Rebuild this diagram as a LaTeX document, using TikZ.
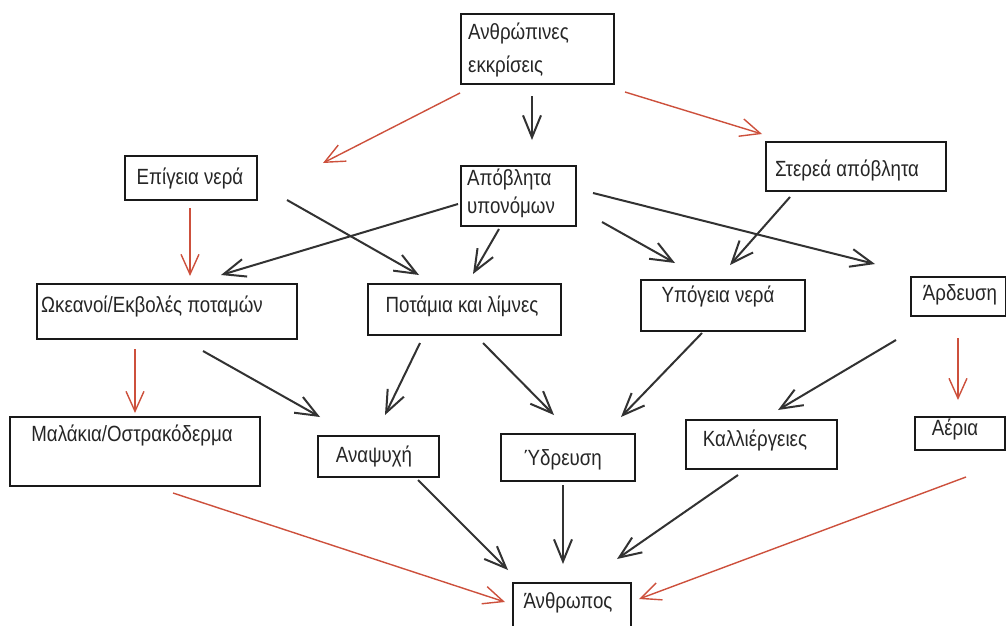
\documentclass[tikz,border=0pt]{standalone}
\usepackage{fontspec}
\setmainfont{Liberation Sans}[FakeStretch=0.85]
\usetikzlibrary{arrows.meta}
\definecolor{inkc}{RGB}{50,50,50}
\definecolor{redc}{RGB}{205,80,60}
\tikzset{
  box/.style={draw=black!90, line width=2pt, inner sep=0pt, anchor=north west},
  lbl/.style={font=\fontsize{22}{28}\selectfont, inner sep=0pt, text=black!85},
  blk/.style={draw=inkc, line width=2pt, -{Straight Barb[length=22pt,width=18pt,line width=2pt]}},
  rda/.style={draw=redc, line width=1.4pt, -{Straight Barb[length=20pt,width=18pt,line width=1.4pt]}},
}
\begin{document}
\begin{tikzpicture}[x=1pt,y=-1pt]
\useasboundingbox[fill=white] (0,0) rectangle (1006,626);
% boxes
\node[box, minimum width=153, minimum height=70] (ank) at (460,13) {};
\node[box, minimum width=132, minimum height=44] (epi) at (124,155) {};
\node[box, minimum width=115, minimum height=60] (apo) at (460,165) {};
\node[box, minimum width=180, minimum height=49] (ste) at (765,141) {};
\node[box, minimum width=260, minimum height=55] (oke) at (36,283) {};
\node[box, minimum width=193, minimum height=51] (pot) at (367,283) {};
\node[box, minimum width=164, minimum height=51] (ypo) at (640,279) {};
\node[box, minimum width=95, minimum height=39] (ard) at (910,276) {};
\node[box, minimum width=250, minimum height=69] (mal) at (9,416) {};
\node[box, minimum width=121, minimum height=41] (ana) at (317,435) {};
\node[box, minimum width=134, minimum height=47] (ydr) at (500,433) {};
\node[box, minimum width=151, minimum height=49] (kal) at (685,419) {};
\node[box, minimum width=90, minimum height=33] (aer) at (914,416) {};
\node[box, minimum width=118, minimum height=54] (anth) at (512,582) {};
% texts
\node[lbl, anchor=base west] (ankt1) at (468,40) {Ανθρώπινες};
\node[lbl, anchor=base west] (ankt2) at (468,72) {εκκρίσεις};
\node[lbl, anchor=base] (epit) at (190,184) {Επίγεια νερά};
\node[lbl, anchor=base west] (apot1) at (467,185) {Απόβλητα};
\node[lbl, anchor=base west] (apot2) at (467,213) {υπονόμων};
\node[lbl, anchor=base] (stet) at (847,176) {Στερεά απόβλητα};
\node[lbl, anchor=base west] (oket) at (41,312) {Ωκεανοί/Εκβολές ποταμών};
\node[lbl, anchor=base] (pott) at (462,312) {Ποτάμια και λίμνες};
\node[lbl, anchor=base] (ypot) at (718,302) {Υπόγεια νερά};
\node[lbl, anchor=base] (ardt) at (960,300) {Άρδευση};
\node[lbl, anchor=base] (malt) at (132,441) {Μαλάκια/Οστρακόδερμα};
\node[lbl, anchor=base] (anat) at (374,462) {Αναψυχή};
\node[lbl, anchor=base] (ydrt) at (563,465) {Ύδρευση};
\node[lbl, anchor=base] (kalt) at (755,446) {Καλλιέργειες};
\node[lbl, anchor=base] (aert) at (955,435) {Αέρια};
\node[lbl, anchor=base] (antht) at (568,608) {Άνθρωπος};
% connector end points
\coordinate (c1s) at (460,93);  \coordinate (c1e) at (323,163);
\coordinate (c2s) at (532,96);  \coordinate (c2e) at (532,140);
\coordinate (c3s) at (625,92);  \coordinate (c3e) at (762,134);
\coordinate (c4s) at (190,208); \coordinate (c4e) at (190,276);
\coordinate (c5s) at (287,200); \coordinate (c5e) at (419,275);
\coordinate (c6s) at (458,204); \coordinate (c6e) at (221,275);
\coordinate (c7s) at (499,229); \coordinate (c7e) at (473,274);
\coordinate (c8s) at (602,222); \coordinate (c8e) at (675,263);
\coordinate (c9s) at (593,193); \coordinate (c9e) at (875,264);
\coordinate (c10s) at (790,197); \coordinate (c10e) at (730,265);
\coordinate (c11s) at (135,349); \coordinate (c11e) at (135,413);
\coordinate (c12s) at (203,351); \coordinate (c12e) at (320,417);
\coordinate (c13s) at (420,343); \coordinate (c13e) at (385,415);
\coordinate (c14s) at (483,343); \coordinate (c14e) at (554,415);
\coordinate (c15s) at (702,333); \coordinate (c15e) at (621,417);
\coordinate (c16s) at (896,340); \coordinate (c16e) at (778,410);
\coordinate (c17s) at (958,338); \coordinate (c17e) at (958,400);
\coordinate (c18s) at (173,493); \coordinate (c18e) at (505,602);
\coordinate (c19s) at (418,480); \coordinate (c19e) at (508,570);
\coordinate (c20s) at (563,485); \coordinate (c20e) at (563,564);
\coordinate (c21s) at (738,475); \coordinate (c21e) at (617,559);
\coordinate (c22s) at (966,477); \coordinate (c22e) at (639,599);
% connectors
\draw[rda] (c1s) -- (c1e);
\draw[blk] (c2s) -- (c2e);
\draw[rda] (c3s) -- (c3e);
\draw[rda] (c4s) -- (c4e);
\draw[blk] (c5s) -- (c5e);
\draw[blk] (c6s) -- (c6e);
\draw[blk] (c7s) -- (c7e);
\draw[blk] (c8s) -- (c8e);
\draw[blk] (c9s) -- (c9e);
\draw[blk] (c10s) -- (c10e);
\draw[rda] (c11s) -- (c11e);
\draw[blk] (c12s) -- (c12e);
\draw[blk] (c13s) -- (c13e);
\draw[blk] (c14s) -- (c14e);
\draw[blk] (c15s) -- (c15e);
\draw[blk] (c16s) -- (c16e);
\draw[rda] (c17s) -- (c17e);
\draw[rda] (c18s) -- (c18e);
\draw[blk] (c19s) -- (c19e);
\draw[blk] (c20s) -- (c20e);
\draw[blk] (c21s) -- (c21e);
\draw[rda] (c22s) -- (c22e);
\end{tikzpicture}
\end{document}
